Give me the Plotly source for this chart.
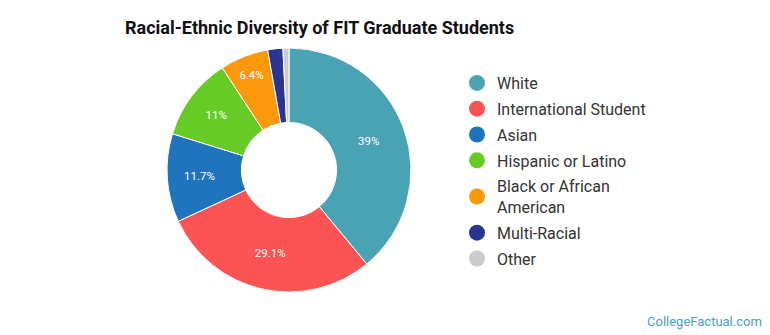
import plotly.graph_objects as go

categories = ["White", "International Student", "Asian", "Hispanic or Latino",
              "Black or African American", "Multi-Racial", "Other"]
legend_labels = ["White", "International Student", "Asian", "Hispanic or Latino",
                 "Black or African<br>American", "Multi-Racial", "Other"]
values = [39.0, 29.1, 11.7, 11.0, 6.4, 2.0, 0.8]
slice_text = ["39%", "29.1%", "11.7%", "11%", "6.4%", "", ""]
colors = ["#4aa3b5", "#fc5454", "#1f74bd", "#66cc25", "#fb980c", "#2a3590", "#cccccc"]

W, H = 770, 335
cx, cy, R = 289, 170, 122

fig = go.Figure()
fig.add_trace(go.Pie(
    labels=categories, values=values, text=slice_text,
    textinfo="text", texttemplate="%{text}", textposition="inside",
    insidetextorientation="horizontal",
    textfont=dict(family="Roboto", size=11.5, color="white"),
    marker=dict(colors=colors, line=dict(color="white", width=1)),
    hole=0.39, sort=False, direction="clockwise", rotation=0,
    showlegend=False, hoverinfo="label+percent",
    domain=dict(x=[(cx - R) / W, (cx + R) / W], y=[(H - cy - R) / H, (H - cy + R) / H]),
))
for i, (lab, col) in enumerate(zip(legend_labels, colors)):
    fig.add_trace(go.Scatter(
        x=[None], y=[None], mode="markers", name=lab, legendgroup=f"g{i}",
        marker=dict(symbol="circle", size=16, color=col),
        showlegend=True,
    ))

fig.update_layout(
    width=W, height=H,
    margin=dict(l=0, r=0, t=0, b=0),
    paper_bgcolor="white", plot_bgcolor="white",
    xaxis=dict(visible=False), yaxis=dict(visible=False),
    title=dict(text="<b>Racial-Ethnic Diversity of FIT Graduate Students</b>",
               x=125 / W, xanchor="left", y=1 - 28 / H, yanchor="middle",
               font=dict(family="Roboto", size=18, color="#111111")),
    legend=dict(x=457 / W, y=1 - 66 / H, xanchor="left", yanchor="top",
                font=dict(family="Roboto", size=16, color="#333333"),
                bgcolor="rgba(0,0,0,0)", itemsizing="trace",
                tracegroupgap=2),
    annotations=[dict(text="CollegeFactual.com", x=1 - 6 / W, y=14 / H,
                      xref="paper", yref="paper", xanchor="right", yanchor="middle",
                      showarrow=False,
                      font=dict(family="Roboto", size=13, color="#4a9ec0"))],
)
fig.write_html("out.html")
